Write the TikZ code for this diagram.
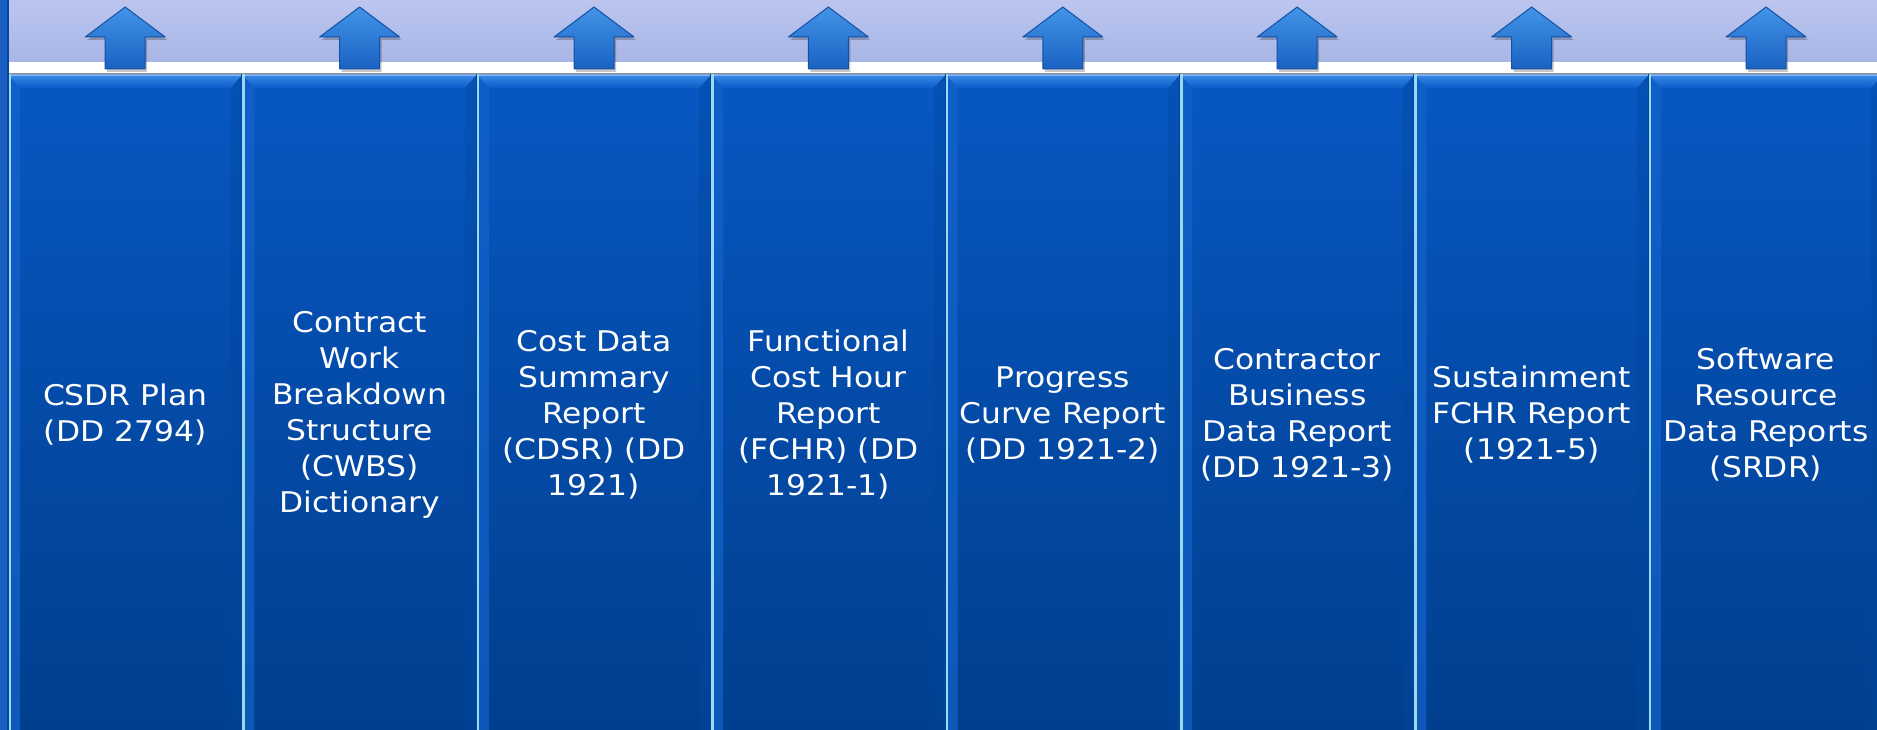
\documentclass[tikz,border=0pt]{standalone}
\usepackage{fontspec}
\newfontfamily\lblfont[FakeStretch=1.1]{DejaVu Sans}
\definecolor{bandtop}{HTML}{BBC5EF}
\definecolor{bandbot}{HTML}{A8B6E6}
\definecolor{coltop}{HTML}{0857C2}
\definecolor{colbot}{HTML}{003F8E}
\definecolor{beveltop}{HTML}{3B8AE6}
\definecolor{bevelbot}{HTML}{0A5CC8}
\definecolor{sidelight}{HTML}{1463CC}
\definecolor{sidedark}{HTML}{02479E}
\definecolor{divider}{HTML}{98DAF2}
\definecolor{arrtop}{HTML}{4294E8}
\definecolor{arrbot}{HTML}{1A62C2}
\definecolor{arredge}{HTML}{1450A4}
\definecolor{edgeblue}{HTML}{1A60C2}
\tikzset{
  lbl/.style={text=white, font=\lblfont\fontsize{28.5}{36}\selectfont,
    align=center, inner sep=0pt},
  arrowbody/.style={draw=arredge, line width=1pt, line join=round,
    top color=arrtop, bottom color=arrbot},
  uparrow/.pic={
    \fill[black, opacity=0.22, line join=round]
      (2,3) -- (42,33) -- (22,33) -- (22,65) -- (-18,65) -- (-18,33) -- (-38,33) -- cycle;
    \path[arrowbody]
      (0,0) -- (40,30) -- (20,30) -- (20,62) -- (-20,62) -- (-20,30) -- (-40,30) -- cycle;
  }
}
\begin{document}
\begin{tikzpicture}[x=1pt, y=-1pt]
  \useasboundingbox (0,0) rectangle (1877,730);
  \clip (0,0) rectangle (1877,730);

  % lavender header band and white rule below it
  \shade[top color=bandtop, bottom color=bandbot] (0,0) rectangle (1877,62);
  \fill[white] (0,62) rectangle (1877,74);
  \fill[black!45] (0,73) rectangle (1877,74.5);

  % eight report columns
  \foreach \i in {0,...,7} {
    \pgfmathsetmacro{\xa}{8+234.4*\i}
    \pgfmathsetmacro{\xb}{\xa+234.4}
    \shade[top color=coltop, bottom color=colbot] (\xa,74.5) rectangle (\xb,730);
    % side bevels
    \fill[sidelight, opacity=0.7] (\xa,74.5) -- (\xa+12,88) -- (\xa+12,730) -- (\xa,730) -- cycle;
    \fill[sidedark, opacity=0.35] (\xb,74.5) -- (\xb-12,88) -- (\xb-12,730) -- (\xb,730) -- cycle;
    % top bevel
    \shade[top color=beveltop, bottom color=bevelbot]
      (\xa,74.5) -- (\xb,74.5) -- (\xb-12,88) -- (\xa+12,88) -- cycle;
    \fill[white, opacity=0.35] (\xa,74.5) rectangle (\xb,76);
    % divider line
    \fill[sidedark] (\xa-1,74.5) rectangle (\xa,730);
    \fill[divider] (\xa,74.5) rectangle (\xa+2.5,730);
  }

  % blue slide edge on the left
  \fill[edgeblue] (0,0) rectangle (7,730);
  \fill[sidedark] (7,0) rectangle (8.5,730);

  % arrows pointing up from each column
  \foreach \i in {0,...,7} {
    \pgfmathsetmacro{\cx}{8+117.2+234.4*\i}
    \pic at (\cx,7) {uparrow};
  }

  % column labels
  \node[lbl] (c1) at (125.2,415) {CSDR Plan\\(DD 2794)};
  \node[lbl] (c2) at (359.6,415) {Contract\\Work\\Breakdown\\Structure\\(CWBS)\\Dictionary};
  \node[lbl] (c3) at (594.0,415) {Cost Data\\Summary\\Report\\(CDSR) (DD\\1921)};
  \node[lbl] (c4) at (828.4,415) {Functional\\Cost Hour\\Report\\(FCHR) (DD\\1921-1)};
  \node[lbl] (c5) at (1062.8,415) {Progress\\Curve Report\\(DD 1921-2)};
  \node[lbl] (c6) at (1297.2,415) {Contractor\\Business\\Data Report\\(DD 1921-3)};
  \node[lbl] (c7) at (1531.6,415) {Sustainment\\FCHR Report\\(1921-5)};
  \node[lbl] (c8) at (1766.0,415) {Software\\Resource\\Data Reports\\(SRDR)};
\end{tikzpicture}
\end{document}
